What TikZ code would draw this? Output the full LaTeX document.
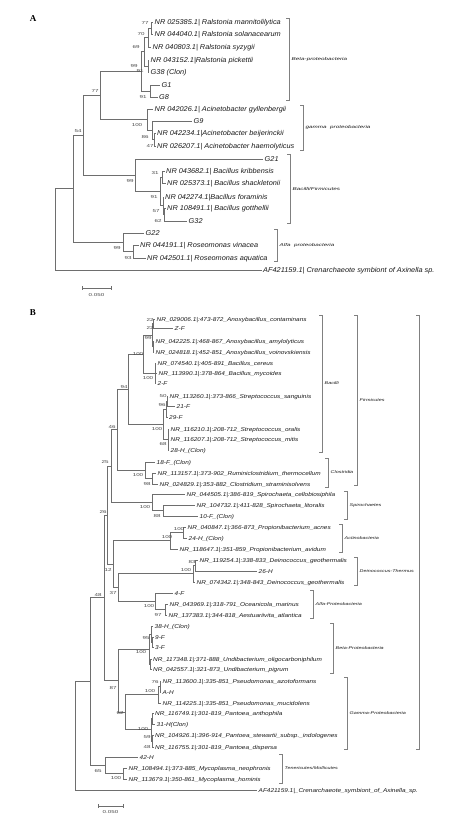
\documentclass[tikz,border=0pt]{standalone}
\usepackage{fontspec}
\setmainfont{Liberation Sans}
\newfontfamily\lfA[FakeStretch=1.05]{Liberation Sans}
\newfontfamily\lfB[FakeStretch=1.15]{Liberation Sans}
\newfontfamily\bsf[FakeStretch=1.45]{Liberation Sans}
\newfontfamily\brfA[FakeStretch=1.5]{Liberation Sans}
\newfontfamily\brfB[FakeStretch=1.35]{Liberation Sans}
\newfontfamily\panf{Liberation Serif}
\definecolor{treec}{HTML}{6E6E6E}
\definecolor{txtc}{HTML}{1A1A1A}
\definecolor{bsc}{HTML}{4A4A4A}
\definecolor{brkc}{HTML}{808080}
\tikzset{
  tl/.style={draw=treec, line width=0.8pt},
  lA/.style={anchor=base west, inner sep=0pt, font=\lfA\itshape\fontsize{7}{8}\selectfont, text=txtc},
  lB/.style={anchor=base west, inner sep=0pt, font=\lfB\itshape\fontsize{5.6}{6.5}\selectfont, text=txtc},
  bs/.style={inner sep=0pt, font=\bsf\fontsize{4.3}{5}\selectfont, text=bsc},
  brk/.style={draw=brkc, line width=0.75pt},
  blA/.style={anchor=west, inner sep=0pt, font=\brfA\itshape\fontsize{4.2}{5}\selectfont, text=txtc},
  blB/.style={anchor=west, inner sep=0pt, font=\brfB\itshape\fontsize{4}{5}\selectfont, text=txtc},
  panlab/.style={inner sep=0pt, font=\panf\bfseries\fontsize{9}{10}\selectfont, text=black},
  sclab/.style={inner sep=0pt, font=\bsf\fontsize{4.3}{5}\selectfont, text=bsc}
}
\newcommand\leafA[5]{%
  \coordinate (#1e) at (#2,#3);
  \node[lA] (#1) at (#2+1.5,#3+2.5) {#5};
  \draw[tl] (#4) |- (#1e);}
\newcommand\leafB[5]{%
  \coordinate (#1e) at (#2,#3);
  \node[lB] (#1) at (#2+1.5,#3+2) {#5};
  \draw[tl] (#4) |- (#1e);}
\newcommand\bracketA[5]{% name, x, top, bottom, label
  \coordinate (#1t) at (#2-3,#3);
  \coordinate (#1b) at (#2-3,#4);
  \draw[brk] (#1t) -- ++(3,0) |- (#1b);
  \node[blA] (#1) at (#2+2.5,{(#3+#4)/2}) {#5};}
\newcommand\bracketB[5]{%
  \coordinate (#1t) at (#2-3,#3);
  \coordinate (#1b) at (#2-3,#4);
  \draw[brk] (#1t) -- ++(3,0) |- (#1b);
  \node[blB] (#1) at (#2+2.5,{(#3+#4)/2}) {#5};}
\begin{document}
\begin{tikzpicture}[x=1pt,y=-1pt]
\fill[white] (0,0) rectangle (474,818);
\useasboundingbox (0,0) rectangle (474,818);

% ================= PANEL A =================
\node[panlab] (labA) at (33,19) {A};
\coordinate (rA) at (55,229);
\coordinate (n54) at (73,188);
\coordinate (nA) at (83,135.3);
\coordinate (n77) at (100,95.5);
\coordinate (beta) at (141,71.4);
\coordinate (ral) at (144,51.8);
\coordinate (nB) at (148,37.5);
\coordinate (nAA) at (151,28);
\coordinate (nD) at (148,66);
\coordinate (g18) at (150,91);
\coordinate (acin) at (147,119.6);
\coordinate (asub) at (152,130.3);
\coordinate (ab) at (154,139.5);
\coordinate (bac) at (135,175.2);
\coordinate (bsub) at (160,191.4);
\coordinate (b1) at (162,177);
\coordinate (b2) at (163,205.8);
\coordinate (b3) at (164,214.5);
\coordinate (ros) at (123,242.3);
\coordinate (rsub) at (133,251.5);
\draw[tl] (rA) |- (n54);
\draw[tl] (n54) |- (nA);
\draw[tl] (nA) |- (n77);
\draw[tl] (n77) |- (beta);
\draw[tl] (beta) |- (ral);
\draw[tl] (ral) |- (nB);
\draw[tl] (nB) |- (nAA);
\draw[tl] (ral) |- (nD);
\draw[tl] (beta) |- (g18);
\draw[tl] (n77) |- (acin);
\draw[tl] (acin) |- (asub);
\draw[tl] (asub) |- (ab);
\draw[tl] (nA) |- (bac);
\draw[tl] (bac) |- (bsub);
\draw[tl] (bsub) |- (b1);
\draw[tl] (bsub) |- (b2);
\draw[tl] (b2) |- (b3);
\draw[tl] (n54) |- (ros);
\draw[tl] (ros) |- (rsub);

\leafA{A1}{153}{22}{nAA}{NR 025385.1| Ralstonia mannitolilytica}
\leafA{A2}{153}{34}{nAA}{NR 044040.1| Ralstonia solanacearum}
\leafA{A3}{151}{47}{nB}{NR 040803.1| Ralstonia syzygii}
\leafA{A4}{149}{60}{nD}{NR 043152.1|Ralstonia pickettii}
\leafA{A5}{149}{72}{nD}{G38 (Clon)}
\leafA{A6}{160}{85}{g18}{G1}
\leafA{A7}{157.5}{97}{g18}{G8}
\leafA{A8}{153}{109}{acin}{NR 042026.1| Acinetobacter gyllenbergii}
\leafA{A9}{192}{121}{asub}{G9}
\leafA{A10}{155.5}{133}{ab}{NR 042234.1|Acinetobacter beijerinckii}
\leafA{A11}{155.5}{146}{ab}{NR 026207.1| Acinetobacter haemolyticus}
\leafA{A12}{263}{159}{bac}{G21}
\leafA{A13}{164.5}{171}{b1}{NR 043682.1| Bacillus kribbensis}
\leafA{A14}{165.5}{183}{b1}{NR 025373.1| Bacillus shackletonii}
\leafA{A15}{163.5}{197}{b2}{NR 042274.1|Bacillus foraminis}
\leafA{A16}{165.5}{208}{b3}{NR 108491.1| Bacillus gotthellii}
\leafA{A17}{187}{221}{b3}{G32}
\leafA{A18}{144}{233}{ros}{G22}
\leafA{A19}{138.5}{245}{rsub}{NR 044191.1| Roseomonas vinacea}
\leafA{A20}{145.5}{258}{rsub}{NR 042501.1| Roseomonas aquatica}
\leafA{A21}{261.5}{270}{rA}{AF421159.1| Crenarchaeote symbiont of Axinella sp.}

\node[bs] (bA1) at (145,23) {77};
\node[bs] (bA2) at (141,34) {70};
\node[bs] (bA3) at (136,47) {69};
\node[bs] (bA4) at (134,66) {99};
\node[bs] (bA5) at (140,71) {91};
\node[bs] (bA6) at (143,97) {91};
\node[bs] (bA7) at (95,91) {77};
\node[bs] (bA8) at (78,131) {54};
\node[bs] (bA9) at (137,125) {100};
\node[bs] (bA10) at (145,137) {86};
\node[bs] (bA11) at (150,146) {47};
\node[bs] (bA12) at (155,173) {31};
\node[bs] (bA13) at (130,181) {99};
\node[bs] (bA14) at (154,197) {91};
\node[bs] (bA15) at (156,211) {57};
\node[bs] (bA16) at (158,221) {62};
\node[bs] (bA17) at (117,248) {99};
\node[bs] (bA18) at (128,258) {93};

\bracketA{brA1}{289}{18}{100}{Beta-proteobacteria}
\bracketA{brA2}{303}{105}{150}{gamma\ \ proteobacteria}
\bracketA{brA3}{290}{154}{223}{Bacilli/Firmicutes}
\bracketA{brA4}{277}{229}{261}{Alfa\ \ proteobacteria}

\coordinate (scA1) at (82,288);
\coordinate (scA2) at (111,288);
\draw[tl] (scA1) -- (scA2);
\draw[tl] ([yshift=-1.8pt]scA1) -- ([yshift=1.8pt]scA1);
\draw[tl] ([yshift=-1.8pt]scA2) -- ([yshift=1.8pt]scA2);
\node[sclab] (scAl) at (96.5,295) {0.050};

% ================= PANEL B =================
\node[panlab] (labB) at (33,313) {B};
\coordinate (rB) at (75,735.8);
\coordinate (n48) at (90,681.5);
\coordinate (nd) at (104,597.8);
\coordinate (nc) at (107,515);
\coordinate (na) at (111,466);
\coordinate (fi) at (117,429.7);
\coordinate (bacl) at (128,389.1);
\coordinate (btop) at (143,354);
\coordinate (anx) at (152,335);
\coordinate (ax1) at (153,323.5);
\coordinate (ax2) at (153,346.5);
\coordinate (bce) at (155,373);
\coordinate (strp) at (163,424.3);
\coordinate (s1) at (166,409);
\coordinate (s1a) at (167,401);
\coordinate (s2) at (168,439.5);
\coordinate (clos) at (145,470.3);
\coordinate (cs) at (152,478.5);
\coordinate (spi) at (152,502.3);
\coordinate (sp2) at (163,510.5);
\coordinate (n12) at (113,564.1);
\coordinate (act) at (170,540.8);
\coordinate (ac1) at (183,532.5);
\coordinate (n37) at (118,587.5);
\coordinate (dei) at (193,573.8);
\coordinate (d1) at (195,565.5);
\coordinate (alf) at (155,601.3);
\coordinate (al1) at (165,609.5);
\coordinate (pro) at (118,680.6);
\coordinate (bet) at (149,649);
\coordinate (bc) at (151,634);
\coordinate (bc1) at (152,642);
\coordinate (bu) at (150.5,664);
\coordinate (gam) at (125,712.3);
\coordinate (pse) at (158,694.8);
\coordinate (ps1) at (160,686.5);
\coordinate (pan) at (151,729.8);
\coordinate (pa1) at (152,718.5);
\coordinate (pa2) at (152.5,741);
\coordinate (myc) at (105,765.3);
\coordinate (my1) at (123,773.5);
\draw[tl] (rB) |- (n48);
\draw[tl] (n48) |- (nd);
\draw[tl] (nd) |- (nc);
\draw[tl] (nc) |- (na);
\draw[tl] (na) |- (fi);
\draw[tl] (fi) |- (bacl);
\draw[tl] (bacl) |- (btop);
\draw[tl] (btop) |- (anx);
\draw[tl] (anx) |- (ax1);
\draw[tl] (anx) |- (ax2);
\draw[tl] (btop) |- (bce);
\draw[tl] (bacl) |- (strp);
\draw[tl] (strp) |- (s1);
\draw[tl] (s1) |- (s1a);
\draw[tl] (strp) |- (s2);
\draw[tl] (fi) |- (clos);
\draw[tl] (clos) |- (cs);
\draw[tl] (na) |- (spi);
\draw[tl] (spi) |- (sp2);
\draw[tl] (nc) |- (n12);
\draw[tl] (n12) |- (act);
\draw[tl] (act) |- (ac1);
\draw[tl] (n12) |- (n37);
\draw[tl] (n37) |- (dei);
\draw[tl] (dei) |- (d1);
\draw[tl] (n37) |- (alf);
\draw[tl] (alf) |- (al1);
\draw[tl] (nd) |- (pro);
\draw[tl] (pro) |- (bet);
\draw[tl] (bet) |- (bc);
\draw[tl] (bc) |- (bc1);
\draw[tl] (bet) |- (bu);
\draw[tl] (pro) |- (gam);
\draw[tl] (gam) |- (pse);
\draw[tl] (pse) |- (ps1);
\draw[tl] (gam) |- (pan);
\draw[tl] (pan) |- (pa1);
\draw[tl] (pan) |- (pa2);
\draw[tl] (n48) |- (myc);
\draw[tl] (myc) |- (my1);

\leafB{B1}{155}{319}{ax1}{NR\_029006.1|:473-872\_Anoxybacillus\_contaminans}
\leafB{B2}{173}{328}{ax1}{Z-F}
\leafB{B3}{154}{341}{ax2}{NR\_042225.1|:468-867\_Anoxybacillus\_amylolyticus}
\leafB{B4}{154}{352}{ax2}{NR\_024818.1|:452-851\_Anoxybacillus\_voinovskiensis}
\leafB{B5}{156}{363}{bce}{NR\_074540.1|:405-891\_Bacillus\_cereus}
\leafB{B6}{157}{373}{bce}{NR\_113990.1|:378-864\_Bacillus\_mycoides}
\leafB{B7}{156}{383}{bce}{2-F}
\leafB{B8}{168}{396}{s1a}{NR\_113260.1|:373-866\_Streptococcus\_sanguinis}
\leafB{B9}{175}{406}{s1a}{21-F}
\leafB{B10}{167.5}{417}{s1}{29-F}
\leafB{B11}{169}{429}{s2}{NR\_116210.1|:208-712\_Streptococcus\_oralis}
\leafB{B12}{169}{439}{s2}{NR\_116207.1|:208-712\_Streptococcus\_mitis}
\leafB{B13}{169}{450}{s2}{28-H\_(Clon)}
\leafB{B14}{155}{462}{clos}{18-F\_(Clon)}
\leafB{B15}{156}{473}{cs}{NR\_113157.1|:373-902\_Ruminiclostridium\_thermocellum}
\leafB{B16}{158}{484}{cs}{NR\_024829.1|:353-882\_Clostridium\_straminisolvens}
\leafB{B17}{185}{494}{spi}{NR\_044505.1|:386-819\_Spirochaeta\_cellobiosiphila}
\leafB{B18}{195}{505}{sp2}{NR\_104732.1|:411-828\_Spirochaeta\_litoralis}
\leafB{B19}{198}{516}{sp2}{10-F\_(Clon)}
\leafB{B20}{186}{527}{ac1}{NR\_040847.1|:366-873\_Propionibacterium\_acnes}
\leafB{B21}{187}{538}{ac1}{24-H\_(Clon)}
\leafB{B22}{178}{549}{act}{NR\_118647.1|:351-859\_Propionibacterium\_avidum}
\leafB{B23}{198}{560}{d1}{NR\_119254.1|:338-833\_Deinococcus\_geothermalis}
\leafB{B24}{257}{571}{d1}{26-H}
\leafB{B25}{195}{582}{dei}{NR\_074342.1|:348-843\_Deinococcus\_geothermalis}
\leafB{B26}{173}{593}{alf}{4-F}
\leafB{B27}{168}{604}{al1}{NR\_043969.1|:318-791\_Oceanicola\_marinus}
\leafB{B28}{167}{615}{al1}{NR\_137383.1|:344-818\_Aestuariivita\_atlantica}
\leafB{B29}{153}{626}{bc}{38-H\_(Clon)}
\leafB{B30}{153.5}{637}{bc1}{9-F}
\leafB{B31}{153.5}{647}{bc1}{3-F}
\leafB{B32}{151.5}{659}{bu}{NR\_117348.1|:371-888\_Undibacterium\_oligocarboniphilum}
\leafB{B33}{151.5}{669}{bu}{NR\_042557.1|:321-873\_Undibacterium\_pigrum}
\leafB{B34}{161}{681}{ps1}{NR\_113600.1|:335-851\_Pseudomonas\_azotoformans}
\leafB{B35}{161}{692}{ps1}{A-H}
\leafB{B36}{161}{703}{pse}{NR\_114225.1|:335-851\_Pseudomonas\_mucidolens}
\leafB{B37}{153.5}{713}{pa1}{NR\_116749.1|:301-819\_Pantoea\_anthophila}
\leafB{B38}{155}{724}{pa1}{31-H(Clon)}
\leafB{B39}{153.5}{735}{pa2}{NR\_104926.1|:396-914\_Pantoea\_stewartii\_subsp.\_indologenes}
\leafB{B40}{153.5}{747}{pa2}{NR\_116755.1|:301-819\_Pantoea\_dispersa}
\leafB{B41}{138}{757}{myc}{42-H}
\leafB{B42}{127}{768}{my1}{NR\_108494.1|:373-885\_Mycoplasma\_neophronis}
\leafB{B43}{127}{779}{my1}{NR\_113679.1|:350-861\_Mycoplasma\_hominis}
\leafB{B44}{257}{790}{rB}{AF421159.1|\_Crenarchaeote\_symbiont\_of\_Axinella\_sp.}

\node[bs] (bB1) at (150,320) {22};
\node[bs] (bB2) at (150,328) {22};
\node[bs] (bB3) at (148,338) {99};
\node[bs] (bB4) at (138,354) {100};
\node[bs] (bB5) at (148,378) {100};
\node[bs] (bB6) at (124,387) {94};
\node[bs] (bB7) at (163,396) {50};
\node[bs] (bB8) at (162,405) {96};
\node[bs] (bB9) at (157,429) {100};
\node[bs] (bB10) at (163,444) {68};
\node[bs] (bB11) at (112,427) {46};
\node[bs] (bB12) at (105,462) {25};
\node[bs] (bB13) at (138,475) {100};
\node[bs] (bB14) at (147,484) {98};
\node[bs] (bB15) at (145,507) {100};
\node[bs] (bB16) at (157,516) {88};
\node[bs] (bB17) at (103,512) {26};
\node[bs] (bB18) at (179,529) {100};
\node[bs] (bB19) at (167,537) {100};
\node[bs] (bB20) at (192,562) {83};
\node[bs] (bB21) at (186,570) {100};
\node[bs] (bB22) at (108,570) {12};
\node[bs] (bB23) at (113,593) {37};
\node[bs] (bB24) at (98,595) {48};
\node[bs] (bB25) at (149,606) {100};
\node[bs] (bB26) at (158,615) {97};
\node[bs] (bB27) at (146,638) {95};
\node[bs] (bB28) at (141,652) {100};
\node[bs] (bB29) at (155,682) {76};
\node[bs] (bB30) at (150,691) {100};
\node[bs] (bB31) at (113,688) {87};
\node[bs] (bB32) at (120,713) {62};
\node[bs] (bB33) at (143,729) {100};
\node[bs] (bB34) at (147,737) {59};
\node[bs] (bB35) at (147,747) {48};
\node[bs] (bB36) at (98,771) {65};
\node[bs] (bB37) at (116,778) {100};

\bracketB{brB1}{322}{315}{452}{Bacilli}
\bracketB{brB2}{357}{315}{485}{Firmicutes}
\coordinate (brB0t) at (416,315);
\coordinate (brB0b) at (416,749);
\draw[brk] (brB0t) -- ++(3,0) |- (brB0b);
\bracketB{brB3}{328}{458}{487}{Clostridia}
\bracketB{brB4}{347}{491}{519}{Spirochaetes}
\bracketB{brB5}{342}{524}{552}{Actinobacteria}
\bracketB{brB6}{357}{557}{585}{Deinococcus-Thermus}
\bracketB{brB7}{313}{590}{618}{Alfa-Proteobacteria}
\bracketB{brB8}{333}{623}{673}{Beta-Proteobacteria}
\bracketB{brB9}{347}{677}{749}{Gamma-Proteobacteria}
\bracketB{brB10}{282}{754}{783}{Tenericutes/Mollicutes}

\coordinate (scB1) at (98,806);
\coordinate (scB2) at (123,806);
\draw[tl] (scB1) -- (scB2);
\draw[tl] ([yshift=-1.8pt]scB1) -- ([yshift=1.8pt]scB1);
\draw[tl] ([yshift=-1.8pt]scB2) -- ([yshift=1.8pt]scB2);
\node[sclab] (scBl) at (110.5,812.5) {0.050};
\end{tikzpicture}
\end{document}
